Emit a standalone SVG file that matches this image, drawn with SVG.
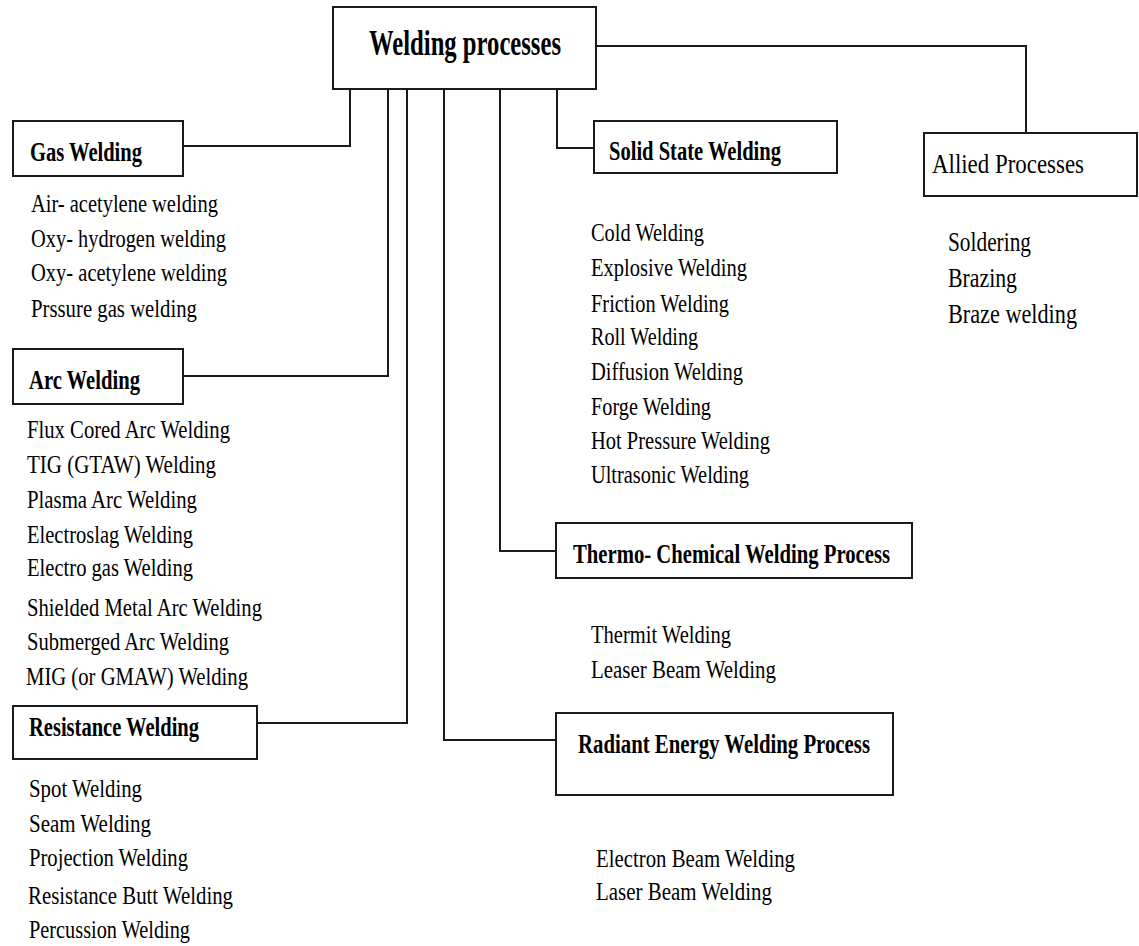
<svg xmlns="http://www.w3.org/2000/svg" width="1139" height="946" viewBox="0 0 1139 946">
<style>
rect{fill:#fff;stroke:#1a1a1a;stroke-width:2}
.c{fill:none;stroke:#1a1a1a;stroke-width:2}
text{font-family:"Liberation Serif","Times New Roman",serif;fill:#000}
.h{font-weight:bold;font-size:27px}
.m{font-weight:bold;font-size:35px}
.l{font-size:25px}
.a{font-size:28px}
.s{font-size:27px}
</style>
<rect x="0" y="0" width="1139" height="946" style="fill:#fff;stroke:none"/>
<g id="connectors">
<path class="c" d="M350,89 V146 H183"/>
<path class="c" d="M388,89 V376 H183"/>
<path class="c" d="M407,89 V723 H257"/>
<path class="c" d="M444,89 V740 H556"/>
<path class="c" d="M500,89 V551 H556"/>
<path class="c" d="M557,89 V148 H594"/>
<path class="c" d="M596,46 H1026 V133"/>
</g>
<g id="welding-processes">
<rect x="333" y="7" width="263" height="82"/>
<text class="m" x="369" y="55" textLength="192" lengthAdjust="spacingAndGlyphs">Welding processes</text>
</g>
<g id="gas-welding">
<rect x="13" y="121" width="170" height="55"/>
<text class="h" x="30" y="161" textLength="112" lengthAdjust="spacingAndGlyphs">Gas Welding</text>
<text class="l" x="31" y="212" textLength="187" lengthAdjust="spacingAndGlyphs">Air- acetylene welding</text>
<text class="l" x="31" y="247" textLength="195" lengthAdjust="spacingAndGlyphs">Oxy- hydrogen welding</text>
<text class="l" x="31" y="281" textLength="196" lengthAdjust="spacingAndGlyphs">Oxy- acetylene welding</text>
<text class="l" x="31" y="317" textLength="166" lengthAdjust="spacingAndGlyphs">Prssure gas welding</text>
</g>
<g id="arc-welding">
<rect x="13" y="349" width="170" height="55"/>
<text class="h" x="29" y="389" textLength="111" lengthAdjust="spacingAndGlyphs">Arc Welding</text>
<text class="l" x="27" y="438" textLength="203" lengthAdjust="spacingAndGlyphs">Flux Cored Arc Welding</text>
<text class="l" x="27" y="473" textLength="189" lengthAdjust="spacingAndGlyphs">TIG (GTAW)  Welding</text>
<text class="l" x="27" y="508" textLength="170" lengthAdjust="spacingAndGlyphs">Plasma Arc Welding</text>
<text class="l" x="27" y="543" textLength="166" lengthAdjust="spacingAndGlyphs">Electroslag Welding</text>
<text class="l" x="27" y="576" textLength="166" lengthAdjust="spacingAndGlyphs">Electro gas Welding</text>
<text class="l" x="27" y="616" textLength="235" lengthAdjust="spacingAndGlyphs">Shielded Metal Arc Welding</text>
<text class="l" x="27" y="650" textLength="202" lengthAdjust="spacingAndGlyphs">Submerged Arc Welding</text>
<text class="l" x="26" y="685" textLength="222" lengthAdjust="spacingAndGlyphs">MIG (or GMAW)  Welding</text>
</g>
<g id="resistance-welding">
<rect x="13" y="706" width="244" height="53"/>
<text class="h" x="29" y="736" textLength="170" lengthAdjust="spacingAndGlyphs">Resistance Welding</text>
<text class="l" x="29" y="797" textLength="113" lengthAdjust="spacingAndGlyphs">Spot Welding</text>
<text class="l" x="29" y="832" textLength="122" lengthAdjust="spacingAndGlyphs">Seam Welding</text>
<text class="l" x="29" y="866" textLength="159" lengthAdjust="spacingAndGlyphs">Projection Welding</text>
<text class="l" x="28" y="904" textLength="205" lengthAdjust="spacingAndGlyphs">Resistance Butt Welding</text>
<text class="l" x="29" y="938" textLength="161" lengthAdjust="spacingAndGlyphs">Percussion Welding</text>
</g>
<g id="solid-state-welding">
<rect x="594" y="121" width="243" height="52"/>
<text class="h" x="609" y="160" textLength="172" lengthAdjust="spacingAndGlyphs">Solid State Welding</text>
<text class="l" x="591" y="241" textLength="113" lengthAdjust="spacingAndGlyphs">Cold Welding</text>
<text class="l" x="591" y="276" textLength="156" lengthAdjust="spacingAndGlyphs">Explosive Welding</text>
<text class="l" x="591" y="312" textLength="138" lengthAdjust="spacingAndGlyphs">Friction Welding</text>
<text class="l" x="591" y="345" textLength="107" lengthAdjust="spacingAndGlyphs">Roll Welding</text>
<text class="l" x="591" y="380" textLength="152" lengthAdjust="spacingAndGlyphs">Diffusion Welding</text>
<text class="l" x="591" y="415" textLength="120" lengthAdjust="spacingAndGlyphs">Forge Welding</text>
<text class="l" x="591" y="449" textLength="179" lengthAdjust="spacingAndGlyphs">Hot Pressure Welding</text>
<text class="l" x="591" y="483" textLength="158" lengthAdjust="spacingAndGlyphs">Ultrasonic Welding</text>
</g>
<g id="allied-processes">
<rect x="924" y="133" width="213" height="63"/>
<text class="a" x="932" y="173" textLength="152" lengthAdjust="spacingAndGlyphs">Allied Processes</text>
<text class="s" x="948" y="251" textLength="83" lengthAdjust="spacingAndGlyphs">Soldering</text>
<text class="s" x="948" y="287" textLength="69" lengthAdjust="spacingAndGlyphs">Brazing</text>
<text class="s" x="948" y="323" textLength="129" lengthAdjust="spacingAndGlyphs">Braze welding</text>
</g>
<g id="thermo-chemical">
<rect x="556" y="523" width="356" height="55"/>
<text class="h" x="573" y="563" textLength="317" lengthAdjust="spacingAndGlyphs">Thermo- Chemical Welding Process</text>
<text class="l" x="591" y="643" textLength="140" lengthAdjust="spacingAndGlyphs">Thermit Welding</text>
<text class="l" x="591" y="678" textLength="185" lengthAdjust="spacingAndGlyphs">Leaser Beam Welding</text>
</g>
<g id="radiant-energy">
<rect x="556" y="713" width="337" height="82"/>
<text class="h" x="578" y="753" textLength="292" lengthAdjust="spacingAndGlyphs">Radiant Energy Welding Process</text>
<text class="l" x="596" y="867" textLength="199" lengthAdjust="spacingAndGlyphs">Electron Beam Welding</text>
<text class="l" x="596" y="900" textLength="176" lengthAdjust="spacingAndGlyphs">Laser Beam Welding</text>
</g>
</svg>
